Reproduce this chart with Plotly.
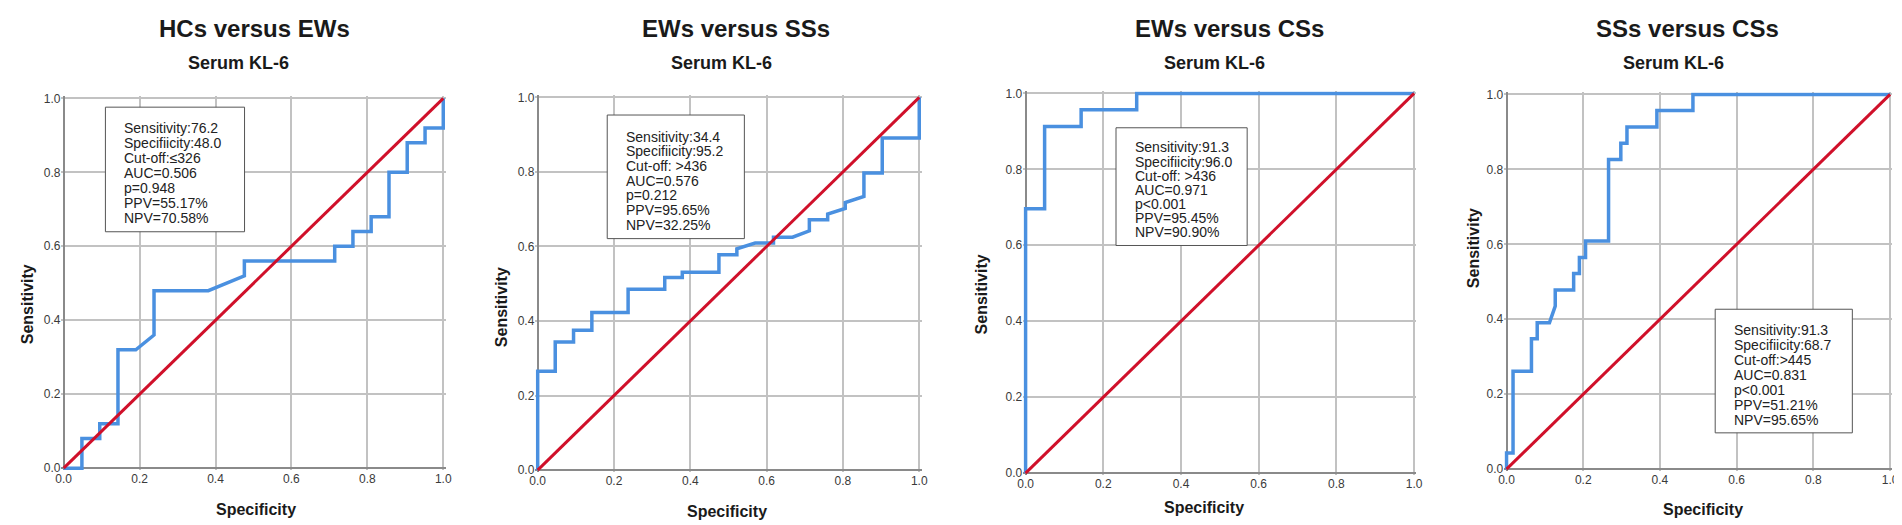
import plotly.graph_objects as go
from plotly.subplots import make_subplots

# ========================================================
# Data
# ========================================================

titles = ["HCs versus EWs", "EWs versus SSs", "EWs versus CSs", "SSs versus CSs"]
subtitle = "Serum KL-6"

spec_1 = [0, 0.048, 0.048, 0.095, 0.095, 0.143, 0.143, 0.19, 0.238, 0.238, 0.381, 0.476, 0.476,
          0.714, 0.714, 0.762, 0.762, 0.81, 0.81, 0.857, 0.857, 0.905, 0.905, 0.952, 0.952, 1.0, 1.0]
sens_1 = [0, 0, 0.08, 0.08, 0.12, 0.12, 0.32, 0.32, 0.36, 0.48, 0.48, 0.52, 0.56,
          0.56, 0.60, 0.60, 0.64, 0.64, 0.68, 0.68, 0.80, 0.80, 0.88, 0.88, 0.92, 0.92, 1.0]

spec_2 = [0, 0, 0.046, 0.046, 0.094, 0.094, 0.142, 0.142, 0.237, 0.237, 0.333, 0.333, 0.379, 0.379,
          0.475, 0.475, 0.522, 0.522, 0.570, 0.618, 0.618, 0.668, 0.712, 0.712, 0.760, 0.760, 0.806,
          0.806, 0.855, 0.855, 0.903, 0.903, 1.0, 1.0]
sens_2 = [0, 0.265, 0.265, 0.344, 0.344, 0.375, 0.375, 0.423, 0.423, 0.485, 0.485, 0.517, 0.517, 0.531,
          0.531, 0.578, 0.578, 0.594, 0.609, 0.609, 0.625, 0.625, 0.642, 0.672, 0.672, 0.687, 0.702,
          0.718, 0.734, 0.797, 0.797, 0.891, 0.891, 1.0]

spec_3 = [0, 0, 0.049, 0.049, 0.143, 0.143, 0.286, 0.286, 1.0]
sens_3 = [0, 0.696, 0.696, 0.913, 0.913, 0.957, 0.957, 1.0, 1.0]

spec_4 = [0, 0, 0.017, 0.017, 0.065, 0.065, 0.080, 0.080, 0.112, 0.127, 0.127, 0.175, 0.175, 0.190,
          0.190, 0.206, 0.206, 0.266, 0.266, 0.298, 0.298, 0.314, 0.314, 0.392, 0.392, 0.486, 0.486, 1.0]
sens_4 = [0, 0.043, 0.043, 0.261, 0.261, 0.348, 0.348, 0.391, 0.391, 0.435, 0.478, 0.478, 0.522, 0.522,
          0.565, 0.565, 0.609, 0.609, 0.826, 0.826, 0.870, 0.870, 0.913, 0.913, 0.957, 0.957, 1.0, 1.0]

ref_line = [0, 1]

stats_1 = ["Sensitivity:76.2", "Specifiicity:48.0", "Cut-off:≤326", "AUC=0.506", "p=0.948", "PPV=55.17%", "NPV=70.58%"]
stats_2 = ["Sensitivity:34.4", "Specifiicity:95.2", "Cut-off: >436", "AUC=0.576", "p=0.212", "PPV=95.65%", "NPV=32.25%"]
stats_3 = ["Sensitivity:91.3", "Specifiicity:96.0", "Cut-off: >436", "AUC=0.971", "p<0.001", "PPV=95.45%", "NPV=90.90%"]
stats_4 = ["Sensitivity:91.3", "Specifiicity:68.7", "Cut-off:>445", "AUC=0.831", "p<0.001", "PPV=51.21%", "NPV=95.65%"]

tick_vals = [0, 0.2, 0.4, 0.6, 0.8, 1.0]
tick_text = ["0.0", "0.2", "0.4", "0.6", "0.8", "1.0"]

# ========================================================
# Layout (pixel geometry of the 1902x525 page)
# ========================================================

W, H = 1902, 525
def px(x): return x / W
def py(y): return 1 - y / H

# plot areas: x0, x1, y_top, y_bottom (pixels where data 0 and 1 sit)
areas = [(50, 432, 87, 464), (527, 911, 86, 466), (1018, 1409, 82, 469), (1502, 1888, 83, 465)]
title_x = [242, 727, 1223, 1684]
sub_x = [226, 712, 1208, 1670]
ylab_pos = [(13, 297), (490, 300), (974, 287), (1469, 240)]
xlab_pos = [(244, 506), (718, 508), (1198, 504), (1700, 506)]
# boxes: x0, x1, y0, y1, text x, first line y, line step
boxes = [(92, 232, 96, 223, 109, 117, 15.4), (597, 735, 104, 230, 614, 126, 15.0),
         (1109, 1241, 117, 237, 1126, 137, 14.4), (1712, 1850, 302, 428, 1729, 323, 15.3)]

pad = 0.006
blue = "#4a90e0"
red = "#d0102a"
font = "Liberation Sans, Arial, sans-serif"

fig = make_subplots(rows=1, cols=4)

curves = [(spec_1, sens_1), (spec_2, sens_2), (spec_3, sens_3), (spec_4, sens_4)]
for i, (sx, sy) in enumerate(curves):
    fig.add_trace(go.Scatter(x=sx, y=sy, mode="lines", line=dict(color=blue, width=3.5),
                             showlegend=False, hoverinfo="skip"), row=1, col=i + 1)
    fig.add_trace(go.Scatter(x=ref_line, y=ref_line, mode="lines", line=dict(color=red, width=3),
                             showlegend=False, hoverinfo="skip"), row=1, col=i + 1)

annotations = []
shapes = []
all_stats = [stats_1, stats_2, stats_3, stats_4]

def label(text, x, y, size, angle=0):
    return dict(text=text, x=px(x), y=py(y), xref="paper", yref="paper",
                xanchor="center", yanchor="middle", showarrow=False, textangle=angle,
                font=dict(family=font, size=size, color="#1a1a1a"))

for i, (x0, x1, yt, yb) in enumerate(areas):
    w = x1 - x0
    h = yb - yt
    sfx = "" if i == 0 else str(i + 1)
    axis_common = dict(range=[-pad, 1 + pad], tickvals=tick_vals, ticktext=tick_text,
                       showgrid=True, gridcolor="#c2c2c2", gridwidth=1.6,
                       zeroline=True, zerolinecolor="#8a8a8a", zerolinewidth=1.6,
                       showline=False, ticks="", fixedrange=True,
                       tickfont=dict(family=font, size=12, color="#3a3a3a"))
    fig.layout["xaxis" + sfx].update(domain=[px(x0 - pad * w), px(x1 + pad * w)], **axis_common)
    fig.layout["yaxis" + sfx].update(domain=[py(yb + pad * h), py(yt - pad * h)], **axis_common)

    annotations.append(label("<b>" + titles[i] + "</b>", title_x[i], 16, 24))
    annotations.append(label("<b>" + subtitle + "</b>", sub_x[i], 51, 18))
    annotations.append(label("<b>Sensitivity</b>", ylab_pos[i][0], ylab_pos[i][1], 16, -90))
    annotations.append(label("<b>Specificity</b>", xlab_pos[i][0], xlab_pos[i][1], 16))

    bx0, bx1, by0, by1, tx, ty, step = boxes[i]
    shapes.append(dict(type="rect", xref="paper", yref="paper",
                       x0=px(bx0), x1=px(bx1), y0=py(by1), y1=py(by0),
                       line=dict(color="#555555", width=1), fillcolor="white", layer="above"))
    for k, line_txt in enumerate(all_stats[i]):
        annotations.append(dict(text=line_txt, x=px(tx), y=py(ty + k * step),
                                xref="paper", yref="paper", xanchor="left", yanchor="middle",
                                showarrow=False,
                                font=dict(family=font, size=14, color="#222222")))

fig.update_layout(
    width=W, height=H,
    margin=dict(l=0, r=0, t=0, b=0),
    paper_bgcolor="white", plot_bgcolor="white",
    annotations=annotations, shapes=shapes,
)

fig.write_html("out.html")
